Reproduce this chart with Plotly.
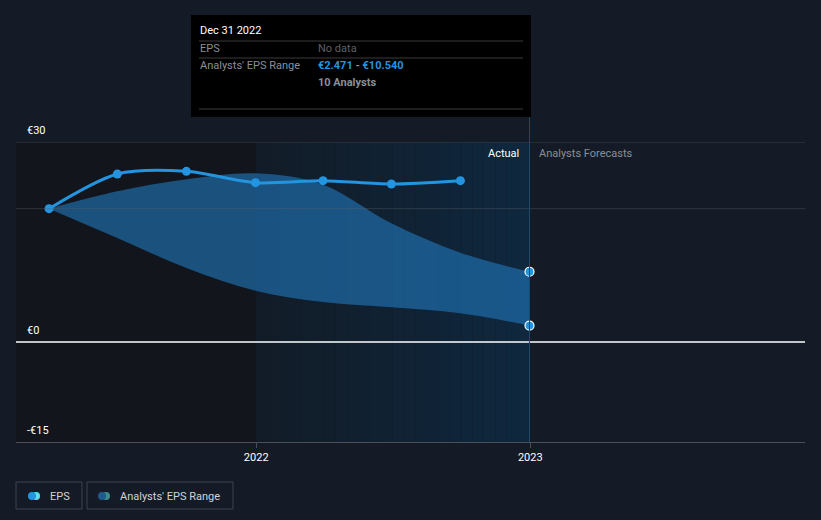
# EPS history vs analysts' EPS range
import plotly.graph_objects as go
import pandas as pd

eps_dates = ["2021-03-31", "2021-06-30", "2021-09-30", "2021-12-31",
             "2022-03-31", "2022-06-30", "2022-09-30"]
eps_values = [20.0, 25.2, 25.6, 23.9, 24.2, 23.7, 24.2]

range_dates = ["2021-03-31", "2021-06-30", "2021-09-30", "2021-12-31",
               "2022-03-31", "2022-06-30", "2022-09-30", "2022-12-31"]
range_high = [20.0, 22.6, 24.4, 25.3, 23.6, 17.8, 13.4, 10.54]
range_low = [20.0, 15.6, 11.1, 7.7, 6.0, 5.2, 4.3, 2.471]

forecast_date = "2022-12-31"
forecast_high = 10.540
forecast_low = 2.471
n_analysts = 10

x_range = ["2021-02-15", "2024-01-02"]
y_range = [-15, 30]
y_ticks = [30, 0, -15]
y_tick_labels = ["€30", "€0", "-€15"]
x_ticks = ["2022-01-01", "2023-01-01"]
x_tick_labels = ["2022", "2023"]

blue = "#2394df"
bg = "#151b26"
font = "Roboto"

fig = go.Figure()

# darker past area, gradient "actual" area
fig.add_shape(type="rect", xref="x", yref="y", x0=x_range[0], x1="2022-01-01",
              y0=y_range[0], y1=y_range[1], fillcolor="#12151c", line_width=0, layer="below")
steps = 24
t0 = pd.Timestamp("2022-01-01")
t1 = pd.Timestamp(forecast_date)
for i in range(steps):
    a = t0 + (t1 - t0) * i / steps
    b = t0 + (t1 - t0) * (i + 1) / steps
    f = i / (steps - 1)
    r = int(18 + (15 - 18) * f)
    g = int(28 + (40 - 28) * f)
    bl = int(40 + (62 - 40) * f)
    fig.add_shape(type="rect", xref="x", yref="y", x0=a, x1=b,
                  y0=y_range[0], y1=y_range[1], fillcolor=f"rgb({r},{g},{bl})",
                  line_width=0, layer="below")

# reference line at first EPS value
fig.add_shape(type="line", xref="paper", yref="y", x0=0, x1=1,
              y0=eps_values[0], y1=eps_values[0], line=dict(color="rgba(90,96,106,0.4)", width=1))
# top gridline
fig.add_shape(type="line", xref="paper", yref="y", x0=0, x1=1,
              y0=30, y1=30, line=dict(color="#3a3f48", width=1))
# zero line
fig.add_shape(type="line", xref="paper", yref="y", x0=0, x1=1,
              y0=0, y1=0, line=dict(color="#ffffff", width=1.3))
# hover line
fig.add_shape(type="line", xref="x", yref="paper", x0=forecast_date, x1=forecast_date,
              y0=0, y1=1.083, line=dict(color="#1d4a6e", width=1))

# analysts range band
fig.add_trace(go.Scatter(x=range_dates, y=range_high, mode="lines",
                         line=dict(width=0, shape="spline", smoothing=1.0), hoverinfo="skip"))
fig.add_trace(go.Scatter(x=range_dates, y=range_low, mode="lines", fill="tonexty",
                         fillcolor="rgba(32,118,186,0.62)",
                         line=dict(width=0, shape="spline", smoothing=1.0), hoverinfo="skip"))

# EPS line
fig.add_trace(go.Scatter(x=eps_dates, y=eps_values, mode="lines+markers",
                         line=dict(color=blue, width=3, shape="spline", smoothing=0.8),
                         marker=dict(size=9, color=blue)))

# forecast end points
fig.add_trace(go.Scatter(x=[forecast_date, forecast_date], y=[forecast_high, forecast_low],
                         mode="markers",
                         marker=dict(size=9, color=blue, line=dict(color="white", width=1.2))))

ann = []
for v, t in zip(y_ticks, y_tick_labels):
    ann.append(dict(x=0.012, y=v, xref="paper", yref="y", text=t, showarrow=False,
                    xanchor="left", yanchor="bottom", yshift=3,
                    font=dict(color="#ffffff", size=11, family=font)))

ann.append(dict(x=forecast_date, y=30, xref="x", yref="y", text="Actual", showarrow=False,
                xanchor="right", yanchor="top", xshift=-8, yshift=-3,
                font=dict(color="#ffffff", size=11, family=font)))
ann.append(dict(x=forecast_date, y=30, xref="x", yref="y", text="Analysts Forecasts",
                showarrow=False, xanchor="left", yanchor="top", xshift=8, yshift=-3,
                font=dict(color="#8a8f96", size=11, family=font)))

# tooltip box (pixel -> paper helpers)
W, H = 821, 520
ml, mr, mt, mb = 16, 16, 142, 78
pw, ph = W - ml - mr, H - mt - mb


def px(x):
    return (x - ml) / pw


def py(y):
    return 1 - (y - mt) / ph


fig.add_shape(type="rect", xref="paper", yref="paper", x0=px(191), x1=px(531),
              y0=py(117), y1=py(15), fillcolor="#000000", line_width=0)
for yy in [41, 58, 109]:
    fig.add_shape(type="line", xref="paper", yref="paper", x0=px(199), x1=px(523),
                  y0=py(yy), y1=py(yy), line=dict(color="#3a3a3a", width=1))


def tt(x, y, text, color, bold=False):
    ann.append(dict(x=px(x), y=py(y), xref="paper", yref="paper",
                    text=f"<b>{text}</b>" if bold else text, showarrow=False,
                    xanchor="left", yanchor="middle",
                    font=dict(color=color, size=11, family=font)))


tt(198, 31, "Dec 31 2022", "#ffffff")
tt(198, 49, "EPS", "#8a8f96")
tt(316, 49, "No data", "#5d6168")
tt(198, 66, "Analysts' EPS Range", "#8a8f96")
ann.append(dict(x=px(316), y=py(66), xref="paper", yref="paper", showarrow=False,
                xanchor="left", yanchor="middle",
                text=f"<b><span style='color:{blue}'>€{forecast_low:.3f}</span>"
                     f" - <span style='color:{blue}'>€{forecast_high:.3f}</span></b>",
                font=dict(color="#8a8f96", size=11, family=font)))
tt(316, 83, f"{n_analysts} Analysts", "#8a8f96", bold=True)

# custom legend boxes
for x0, x1 in [(16, 82), (87, 233)]:
    fig.add_shape(type="rect", xref="paper", yref="paper", x0=px(x0), x1=px(x1),
                  y0=py(509), y1=py(482), line=dict(color="#3e434b", width=1),
                  fillcolor="rgba(0,0,0,0)")
for cx, col in [(36, "#5ce0e6"), (32, blue), (106, "#3d8a8a"), (102, "#1f5a8a")]:
    fig.add_shape(type="circle", xref="paper", yref="paper", x0=px(cx - 4), x1=px(cx + 4),
                  y0=py(500), y1=py(492), fillcolor=col, line_width=0)
tt(48, 496, "EPS", "#d0d3d7")
tt(118, 496, "Analysts' EPS Range", "#d0d3d7")

fig.update_layout(
    width=W, height=H,
    margin=dict(l=ml, r=mr, t=mt, b=mb, pad=0),
    paper_bgcolor=bg, plot_bgcolor=bg,
    showlegend=False,
    annotations=ann,
    xaxis=dict(type="date", range=x_range, showgrid=False, zeroline=False,
               tickvals=x_ticks, ticktext=x_tick_labels, ticks="outside", ticklen=5,
               tickcolor="#4a4f57", showline=True, linecolor="#4a4f57", linewidth=1,
               tickfont=dict(color="#ffffff", size=11, family=font)),
    yaxis=dict(range=y_range, showgrid=False, zeroline=False, showticklabels=False),
    font=dict(family=font),
)

fig.write_html("out.html", config={"displayModeBar": False},
               post_script="document.body.style.margin='0';")
